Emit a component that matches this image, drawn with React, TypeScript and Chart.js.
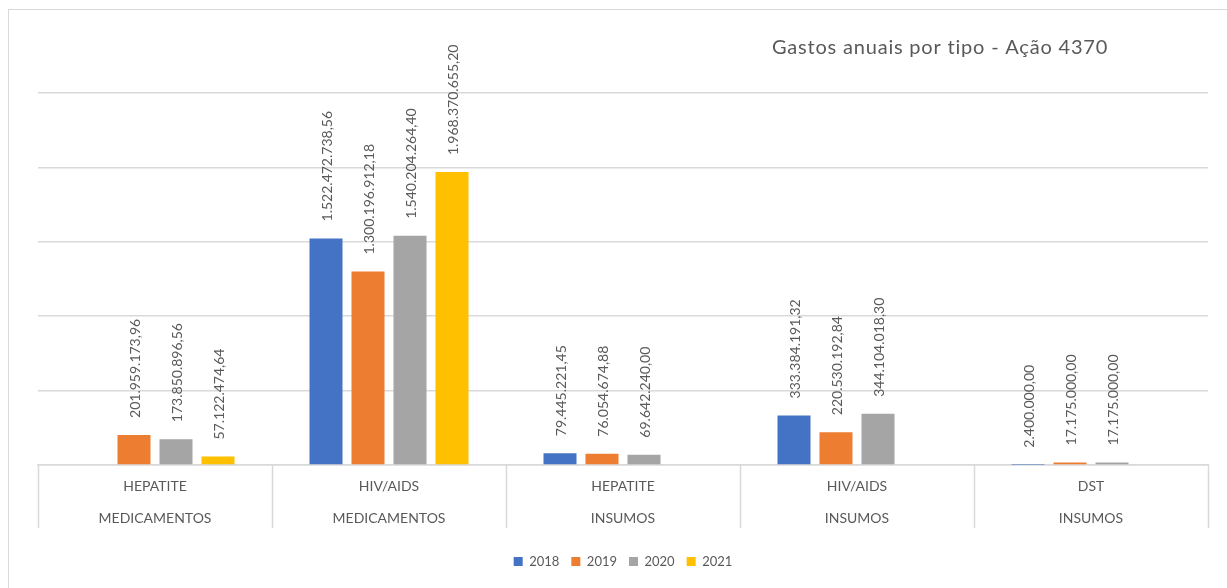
import React, { useEffect, useRef } from "react";
import { Chart, registerables } from "chart.js";

Chart.register(...registerables);

// Categories: first level (type) and second level (group)
const tipos = ["HEPATITE", "HIV/AIDS", "HEPATITE", "HIV/AIDS", "DST"];
const grupos = ["MEDICAMENTOS", "MEDICAMENTOS", "INSUMOS", "INSUMOS", "INSUMOS"];

// Annual spending per category (R$)
const anos = ["2018", "2019", "2020", "2021"];
const gastos2018 = [null, 1522472738.56, 79445221.45, 333384191.32, 2400000.0];
const gastos2019 = [201959173.96, 1300196912.18, 76054674.88, 220530192.84, 17175000.0];
const gastos2020 = [173850896.56, 1540204264.4, 69642240.0, 344104018.3, 17175000.0];
const gastos2021 = [57122474.64, 1968370655.2, null, null, null];

const cores = ["#4472C4", "#ED7D31", "#A5A5A5", "#FFC000"];

const titulo = "Gastos anuais por tipo - Ação 4370";

const FONT = "Lato, 'Open Sans', sans-serif";
const TEXT = "#595959";
const LINE = "#d9d9d9";

// pt-BR number format: 1.234.567,89
function formatBR(v: number): string {
  const [int, dec] = v.toFixed(2).split(".");
  const withDots = int.replace(/\B(?=(\d{3})+(?!\d))/g, ".");
  return `${withDots},${dec}`;
}

// Vertical value labels above each bar
const valueLabels = {
  id: "valueLabels",
  afterDatasetsDraw(chart: any) {
    const ctx = chart.ctx;
    ctx.save();
    ctx.fillStyle = TEXT;
    ctx.font = `14px ${FONT}`;
    ctx.textAlign = "left";
    ctx.textBaseline = "middle";
    chart.data.datasets.forEach((ds: any, di: number) => {
      const meta = chart.getDatasetMeta(di);
      meta.data.forEach((bar: any, i: number) => {
        const v = ds.data[i];
        if (v === null || v === undefined) return;
        ctx.save();
        ctx.translate(bar.x, bar.y - 17);
        ctx.rotate(-Math.PI / 2);
        ctx.fillText(formatBR(v), 0, 1);
        ctx.restore();
      });
    });
    ctx.restore();
  },
};

// Two-level category axis with separators, plus the chart title
const multiLevelAxis = {
  id: "multiLevelAxis",
  afterDraw(chart: any) {
    const ctx = chart.ctx;
    const x = chart.scales.x;
    const n = tipos.length;
    const w = x.width / n;
    const top = x.top;
    ctx.save();
    ctx.strokeStyle = LINE;
    ctx.lineWidth = 1.5;
    for (let i = 0; i <= n; i++) {
      const px = Math.round(x.left + i * w) + 0.5;
      ctx.beginPath();
      ctx.moveTo(px, top);
      ctx.lineTo(px, top + 63);
      ctx.stroke();
    }
    ctx.fillStyle = TEXT;
    ctx.font = `14px ${FONT}`;
    ctx.textAlign = "center";
    ctx.textBaseline = "middle";
    for (let i = 0; i < n; i++) {
      const cx = x.getPixelForValue(i);
      ctx.fillText(tipos[i], cx, top + 21);
      ctx.fillText(grupos[i], cx, top + 53);
    }
    ctx.font = `20px ${FONT}`;
    (ctx as any).letterSpacing = "0.8px";
    ctx.textAlign = "left";
    ctx.fillText(titulo, 772, 48);
    ctx.restore();
  },
};

export default function App() {
  const ref = useRef<HTMLCanvasElement | null>(null);

  useEffect(() => {
    if (!ref.current) return;
    const series = [gastos2018, gastos2019, gastos2020, gastos2021];
    const chart = new Chart(ref.current, {
      type: "bar",
      data: {
        labels: tipos.map((t, i) => `${t} ${grupos[i]}`),
        datasets: anos.map((a, i) => ({
          label: a,
          data: series[i],
          backgroundColor: cores[i],
          borderWidth: 0,
          categoryPercentage: 0.718,
          barPercentage: 0.786,
        })),
      },
      options: {
        responsive: false,
        animation: false,
        layout: { padding: { left: 38, right: 19, top: 93, bottom: 10 } },
        plugins: {
          legend: {
            position: "bottom",
            labels: {
              boxWidth: 9,
              boxHeight: 9,
              padding: 12,
              color: TEXT,
              font: { family: FONT, size: 13 },
            },
          },
          tooltip: { enabled: false },
        },
        scales: {
          x: {
            grid: { display: false },
            ticks: { display: false },
            border: { display: true, color: LINE, width: 1.5 },
            afterFit(s: any) {
              s.height = 78;
            },
          },
          y: {
            min: 0,
            max: 2500000000,
            ticks: { display: false, stepSize: 500000000 },
            border: { display: false },
            grid: { color: LINE, lineWidth: 1.5, drawTicks: false },
            afterFit(s: any) {
              s.width = 0;
            },
          },
        },
      },
      plugins: [valueLabels, multiLevelAxis],
    });
    return () => chart.destroy();
  }, []);

  return (
    <div style={{ position: "fixed", left: 0, top: 0, width: 1227, height: 588, overflow: "hidden", background: "#fff" }}>
      <div
        style={{
          position: "absolute",
          left: 8,
          top: 9,
          width: 1240,
          height: 600,
          borderLeft: `1.5px solid ${LINE}`,
          borderTop: `1.5px solid ${LINE}`,
        }}
      />
      <canvas ref={ref} width={1227} height={588} style={{ position: "absolute", left: 0, top: 0, display: "block" }} />
    </div>
  );
}
